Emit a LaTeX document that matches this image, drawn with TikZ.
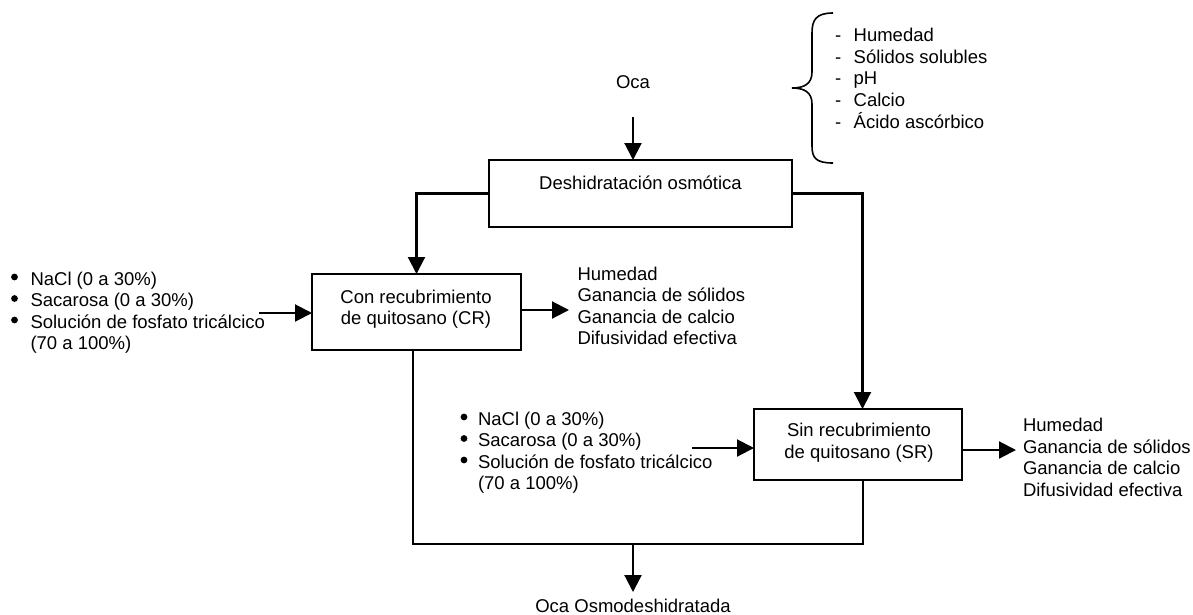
\documentclass[tikz,border=0pt]{standalone}
\usepackage{fontspec}
\setmainfont{Liberation Sans}
\usetikzlibrary{arrows.meta}
\newcommand{\txtsize}{\fontsize{18.5}{21.5}\selectfont}
\begin{document}
\begin{tikzpicture}[x=1pt,y=-1pt,
  every node/.style={inner sep=0pt, outer sep=0pt, font=\txtsize},
  procbox/.style={draw, line width=2.3pt},
  arr/.style={line width=2.1pt, -{Triangle[length=17pt,width=17pt]}},
  plainline/.style={line width=1.5pt},
  bracestyle/.style={line width=1.6pt},
  bulletdot/.style={circle, fill=black, minimum size=6.8pt},
  txtw/.style={anchor=base west},
  txtc/.style={anchor=base}]
\useasboundingbox (0,0) rectangle (1193,614);

% boxes
\node[procbox, minimum width=303pt, minimum height=67pt] (deh) at (640.5,193.5) {};
\node[txtc] (dehtxt) at (640.5,189) {Deshidratación osmótica};
\node[procbox, minimum width=209pt, minimum height=76pt] (cr) at (416.5,312) {};
\node[txtc] (crtxt) at (416,303.3) {\begin{tabular}[t]{@{}c@{}}Con recubrimiento\\de quitosano (CR)\end{tabular}};
\node[procbox, minimum width=208pt, minimum height=71pt] (sr) at (858,444.5) {};
\node[txtc] (srtxt) at (859,436.7) {\begin{tabular}[t]{@{}c@{}}Sin recubrimiento\\de quitosano (SR)\end{tabular}};

% texts
\node[txtc] (oca) at (633,88) {Oca};
\node[txtc] (ocaout) at (633,612) {Oca Osmodeshidratada};
\node[txtw] (props) at (835,41.5) {\begin{tabular}[t]{@{}l@{\hspace{12.5pt}}l@{}}- & Humedad\\- & Sólidos solubles\\- & pH\\- & Calcio\\- & Ácido ascórbico\end{tabular}};
\node[txtw] (inlistA) at (30.5,285) {\begin{tabular}[t]{@{}l@{}}NaCl (0 a 30\%)\\Sacarosa (0 a 30\%)\\Solución de fosfato tricálcico\\(70 a 100\%)\end{tabular}};
\node[txtw] (inlistB) at (478,425) {\begin{tabular}[t]{@{}l@{}}NaCl (0 a 30\%)\\Sacarosa (0 a 30\%)\\Solución de fosfato tricálcico\\(70 a 100\%)\end{tabular}};
\node[txtw] (outcr) at (577.5,280) {\begin{tabular}[t]{@{}l@{}}Humedad\\Ganancia de sólidos\\Ganancia de calcio\\Difusividad efectiva\end{tabular}};
\node[txtw] (outsr) at (1023,431.7) {\begin{tabular}[t]{@{}l@{}}Humedad\\Ganancia de sólidos\\Ganancia de calcio\\Difusividad efectiva\end{tabular}};

% bullets
\node[bulletdot] (bA1) at (14.5,277) {};
\node[bulletdot] (bA2) at (14.5,298.5) {};
\node[bulletdot] (bA3) at (14.5,320) {};
\node[bulletdot] (bB1) at (464,417) {};
\node[bulletdot] (bB2) at (464,438.5) {};
\node[bulletdot] (bB3) at (464,460) {};

% brace
\draw[bracestyle] (833,13) .. controls (816,13) and (812,20) .. (812,33) -- (812,72)
  .. controls (812,84) and (804,88) .. (792,88)
  .. controls (804,88) and (812,92) .. (812,104) -- (812,146)
  .. controls (812,158) and (816,163) .. (833,163);

% connectors
\coordinate (ocaA) at (633,117);
\draw[arr] (ocaA) -- (ocaA |- deh.north);
\draw[arr] (deh.west) -| (cr.north);
\draw[arr] (deh.east) -| ([xshift=4.5pt]sr.north);
\coordinate (inL) at (259,313);
\draw[arr] (inL) -- (inL -| cr.west);
\coordinate (crOut) at (569,310);
\draw[arr] (crOut -| cr.east) -- (crOut);
\coordinate (inM) at (692,448);
\draw[arr] (inM) -- (inM -| sr.west);
\coordinate (srOut) at (1016,450);
\draw[arr] (srOut -| sr.east) -- (srOut);
\coordinate (jL) at (413,544);
\coordinate (jR) at (863,544);
\coordinate (jM) at (633,544);
\draw[plainline] (jL |- cr.south) -- (jL) -- (jR) -- (jR |- sr.south);
\coordinate (tipF) at (633,592);
\draw[arr] (jM) -- (tipF);
\end{tikzpicture}
\end{document}
